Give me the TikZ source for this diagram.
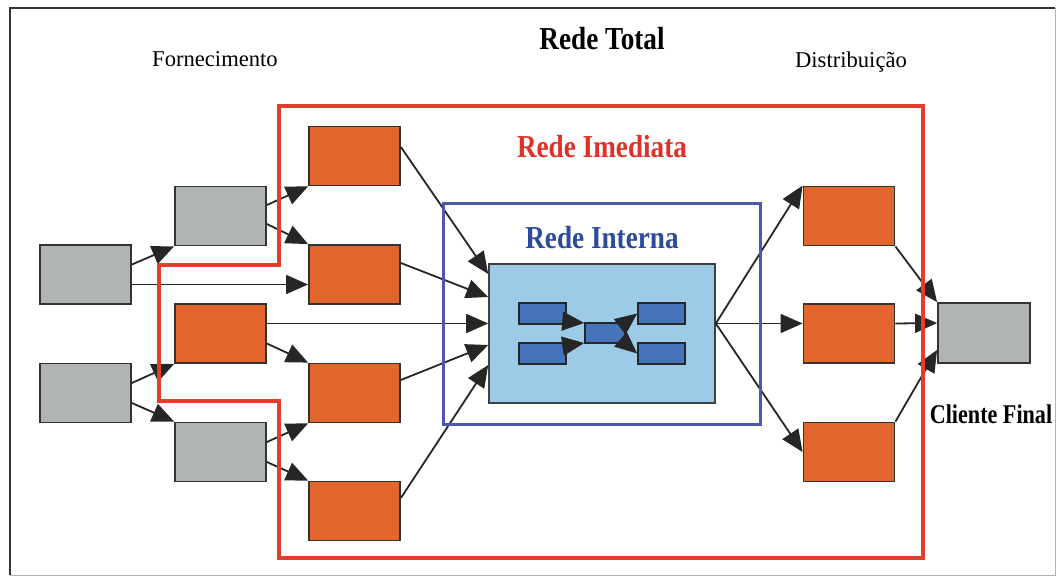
\documentclass[tikz,border=0pt]{standalone}
\usepackage{fontspec}
\setmainfont{Liberation Serif}
\usetikzlibrary{calc,arrows.meta}
\definecolor{laranja}{RGB}{226,101,44}
\definecolor{cinza}{RGB}{177,180,181}
\definecolor{azulclaro}{RGB}{157,202,231}
\definecolor{azul}{RGB}{70,116,186}
\definecolor{azulborda}{RGB}{75,88,172}
\definecolor{vermelho}{RGB}{226,62,46}
\definecolor{textovermelho}{RGB}{220,50,40}
\definecolor{textoazul}{RGB}{45,75,155}
\newcommand{\estreito}[1]{\scalebox{0.85}[1]{#1}}
\tikzset{
	bloco/.style={draw=black!80, line width=0.9pt, minimum width=45.5pt, minimum height=29.5pt, inner sep=0pt},
	fornecedor/.style={bloco, fill=cinza},
	empresa/.style={bloco, fill=laranja},
	mini/.style={draw=black!85, line width=0.8pt, fill=azul, minimum width=23.5pt, minimum height=10.5pt, inner sep=0pt},
	seta/.style={line width=0.9pt, draw=black!85, -{Triangle[length=11pt,width=9.5pt]}},
	titulo/.style={anchor=base, font=\fontsize{16}{19}\selectfont\bfseries},
	rotulo/.style={anchor=base, font=\fontsize{11.3}{13}\selectfont}
}

\begin{document}
\begin{tikzpicture}[x=0.5pt, y=-0.5pt]
		%%%%% START %%%%%
		\useasboundingbox (0,0) rectangle (1057,578);
		
		% moldura
		\draw[line width=1.3pt, black!80] (10,575) -- (10,8) -- (1055,8);
		\draw[line width=0.5pt, black!30] (1055,8) -- (1055,575) -- (10,575);
		
		% textos
		\node[titulo] (total) at (602,49) {\estreito{Rede Total}};
		\node[rotulo] (forn) at (215,66) {Fornecimento};
		\node[rotulo] (dist) at (851,68) {Distribuição};
		\node[titulo, text=textovermelho] (imediata) at (602,157) {\estreito{Rede Imediata}};
		\node[titulo, text=textoazul] (interna) at (602,248) {\estreito{Rede Interna}};
		\node[anchor=base, font=\fontsize{13.5}{16}\selectfont\bfseries] (final) at (991,423) {\scalebox{0.82}[1]{Cliente Final}};
		
		% fornecedores
		\node[fornecedor] (g1) at (85.5,274.5) {};
		\node[fornecedor] (g3) at (85.5,393) {};
		\node[fornecedor] (g2) at (220.5,216) {};
		\node[empresa] (om) at (220.5,333.5) {};
		\node[fornecedor] (g4) at (220.5,452) {};
		
		\node[empresa] (o1) at (354.5,156) {};
		\node[empresa] (o2) at (354.5,274.5) {};
		\node[empresa] (o3) at (354.5,393) {};
		\node[empresa] (o4) at (354.5,511) {};
		
		% empresa
		\node[draw=black!75, line width=0.8pt, fill=azulclaro, minimum width=113pt, minimum height=69.5pt, inner sep=0pt] (core) at (602,333.5) {};
		\node[mini] (l1) at (542.5,313.5) {};
		\node[mini] (l2) at (542.5,353.5) {};
		\node[mini, minimum width=20pt, minimum height=10pt] (m) at (605,333) {};
		\node[mini] (r1) at (661.5,313.5) {};
		\node[mini] (r2) at (661.5,353.5) {};
		
		% distribuicao
		\node[empresa] (d1) at (849,216) {};
		\node[empresa] (d2) at (849,333.5) {};
		\node[empresa] (d3) at (849,452) {};
		\node[fornecedor, minimum width=46pt, minimum height=30pt] (cf) at (984,333) {};
		
		% setas
		\draw[seta] ([yshift=5pt]g1.east) -- (g2.south west);
		\draw[seta] ([yshift=-5pt]g1.east) -- ([yshift=-5pt]o2.west);
		\draw[seta] ([yshift=5.5pt]g2.east) -- (o1.south west);
		\draw[seta] ([yshift=-4pt]g2.east) -- (o2.north west);
		\draw[seta] ([yshift=5pt]g3.east) -- (om.south west);
		\draw[seta] ([yshift=-5pt]g3.east) -- (g4.north west);
		\draw[seta] ([yshift=5pt]om.east) -- ([yshift=5pt]om.east -| core.west);
		\draw[seta] ([yshift=-5pt]om.east) -- (o3.north west);
		\draw[seta] ([yshift=5pt]g4.east) -- (o3.south west);
		\draw[seta] ([yshift=-5pt]g4.east) -- (o4.north west);
		
		\draw[seta] ([yshift=4.5pt]o1.east) -- ([yshift=29.75pt]core.west);
		\draw[seta] ([yshift=5.75pt]o2.east) -- ([yshift=18.25pt]core.west);
		\draw[seta] ([yshift=6.5pt]o3.east) -- ([yshift=-5.75pt]core.west);
		\draw[seta] ([yshift=6.5pt]o4.east) -- ([yshift=-15.75pt]core.west);
		
		\draw[seta] ([yshift=-4pt]l1.east) -- ([yshift=5pt]m.west);
		\draw[seta] ([yshift=4pt]l2.east) -- ([yshift=-5pt]m.west);
		\draw[seta] (m.north east) -- (r1.west);
		\draw[seta] (m.south east) -- (r2.west);
		
		\draw[seta] ([yshift=5pt]core.east) -- (d1.north west);
		\draw[seta] ([yshift=5pt]core.east) -- ([yshift=5pt]d2.west);
		\draw[seta] ([yshift=5pt]core.east) -- (d3.west);
		
		\draw[seta] (d1.south east) -- (cf.north west);
		\draw[seta] ([yshift=5pt]d2.east) -- ([yshift=5pt]cf.west);
		\draw[seta] (d3.north east) -- ([yshift=7pt]cf.south west);
		
		% redes
		\draw[azulborda, line width=1.5pt] (443,203) rectangle (760,424);
		\draw[vermelho, line width=2pt] (279,106) -- (923,106) -- (923,558) -- (279,558) -- (279,401) -- (159,401) -- (159,265) -- (279,265) -- cycle;
		
		%%%%% END %%%%%
\end{tikzpicture}
\end{document}
